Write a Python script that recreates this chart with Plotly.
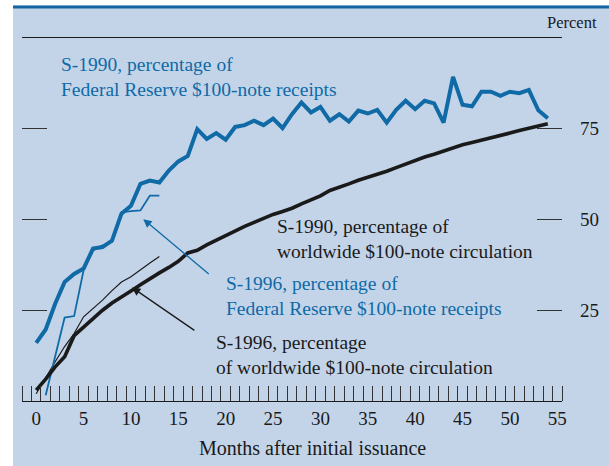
import plotly.graph_objects as go

# values (percent, by month after issuance)
months = list(range(55))
s1990_receipts = [
    16, 19.7, 26.8, 32.8, 35, 36.5, 42, 42.4, 44.2, 51.6,
    53.8, 59.8, 60.7, 60.2, 63.5, 66, 67.5, 74.9, 72.2, 73.8,
    72, 75.5, 76, 77.2, 76, 77.8, 75.2, 79, 82.2, 79.5,
    81, 77.2, 79, 77, 80, 79.2, 80.2, 76.7, 80.2, 82.7,
    80.4, 82.7, 82, 76.7, 89.3, 81.6, 81.2, 85.2, 85.2, 84.1,
    85.2, 84.8, 85.7, 80.1, 77.9,
]
s1990_circulation = [
    3, 6, 9.4, 12.2, 18, 20.4, 22.8, 25, 27, 28.8,
    30.3, 32, 33.8, 35.3, 36.8, 38.5, 40.8, 41.5, 43, 44.3,
    45.6, 46.9, 48.1, 49.2, 50.3, 51.4, 52.2, 53.1, 54.3, 55.3,
    56.5, 58, 58.8, 59.8, 60.8, 61.6, 62.5, 63.3, 64.3, 65.3,
    66.4, 67.2, 68, 68.9, 69.8, 70.6, 71.2, 71.8, 72.5, 73.1,
    73.8, 74.5, 75.1, 75.8, 76.4,
]
s1996_receipt_months = [1, 3, 4, 5, 6, 7, 8, 9, 10, 11, 12, 13]
s1996_receipts = [1.6, 23, 23.4, 36, 41.5, 42.9, 43.8, 52, 52.3, 52.5, 56.6, 56.6]
s1996_circ_months = list(range(14))
s1996_circulation = [2, 6.5, 10.8, 15, 18.6, 23.2, 25.5, 27.8, 30.4, 32.8, 34.2, 36.2, 38, 39.8]

x_labels = list(range(0, 56, 5))
x_minor = [m - 0.5 for m in range(-1, 57)]
y_ticks = [25, 50, 75]

BLUE = "#0f6aa6"
PANEL = "#c3d4e9"
DARK = "#1a1a1a"
FONT = "Liberation Serif, Times New Roman, serif"

W, H = 609, 466
L, R, T, B = 22, 47, 38, 65
pw, ph = W - L - R, H - T - B


def px_x(p):
    return (p - L) / pw


def px_y(p):
    return (H - B - p) / ph


fig = go.Figure()

fig.add_trace(go.Scatter(x=s1996_circ_months, y=s1996_circulation, mode="lines",
                         line=dict(color=DARK, width=1.2)))
fig.add_trace(go.Scatter(x=s1996_receipt_months, y=s1996_receipts, mode="lines",
                         line=dict(color=BLUE, width=1.8)))
fig.add_trace(go.Scatter(x=months, y=s1990_circulation, mode="lines",
                         line=dict(color=DARK, width=3.6)))
fig.add_trace(go.Scatter(x=months, y=s1990_receipts, mode="lines",
                         line=dict(color=BLUE, width=4)))

# white margin strips round the blue panel, and the blue rule on top
fig.add_shape(type="rect", xref="paper", yref="paper",
              x0=px_x(-2), x1=px_x(13), y0=px_y(H + 2), y1=px_y(-2),
              fillcolor="white", line_width=0)
fig.add_shape(type="rect", xref="paper", yref="paper",
              x0=px_x(-2), x1=px_x(W + 2), y0=px_y(5.5), y1=px_y(-2),
              fillcolor="white", line_width=0)
fig.add_shape(type="rect", xref="paper", yref="paper",
              x0=px_x(13), x1=px_x(W + 2), y0=px_y(8.5), y1=px_y(5.5),
              fillcolor="#1466a3", line_width=0)

labels = [
    ("S-1990, percentage of<br>Federal Reserve $100-note receipts", 2.4, 89.3, BLUE),
    ("S-1990, percentage of<br>worldwide $100-note circulation", 25.2, 44.5, DARK),
    ("S-1996, percentage of<br>Federal Reserve $100-note receipts", 19.8, 28.8, BLUE),
    ("S-1996, percentage<br>of worldwide $100-note circulation", 18.8, 12.8, DARK),
]
for text, x, y, color in labels:
    fig.add_annotation(x=x, y=y, text=text, showarrow=False, xanchor="left",
                       yanchor="middle", align="left",
                       font=dict(family=FONT, size=19.5, color=color))

# pointer arrows
fig.add_annotation(x=11.3, y=50.1, ax=67, ay=56, text="", showarrow=True,
                   arrowhead=2, arrowsize=1.3, arrowwidth=1.3, arrowcolor=BLUE)
fig.add_annotation(x=10.1, y=31.3, ax=64, ay=44, text="", showarrow=True,
                   arrowhead=2, arrowsize=1.3, arrowwidth=1.3, arrowcolor=DARK)

fig.add_annotation(x=px_x(599), y=px_y(23), xref="paper", yref="paper",
                   text="Percent", showarrow=False, xanchor="right", yanchor="middle",
                   font=dict(family=FONT, size=16.5, color=DARK))
fig.add_annotation(x=px_x(312), y=px_y(448), xref="paper", yref="paper",
                   text="Months after initial issuance", showarrow=False,
                   xanchor="center", yanchor="middle",
                   font=dict(family=FONT, size=20, color=DARK))

fig.update_xaxes(
    range=[-1.5, 55.5],
    tickmode="array",
    tickvals=x_labels,
    ticks="",
    ticklabelstandoff=0,
    showline=True,
    mirror=True,
    linecolor=DARK,
    linewidth=1.3,
    showgrid=False,
    zeroline=False,
    minor=dict(tickmode="array", tickvals=x_minor, ticks="inside",
               ticklen=15, tickcolor="#333333", tickwidth=1, showgrid=False),
    tickfont=dict(family=FONT, size=19, color=DARK),
)
fig.update_yaxes(
    range=[0, 100],
    side="right",
    tickmode="array",
    tickvals=y_ticks,
    ticks="inside",
    ticklen=25,
    tickwidth=1.3,
    tickcolor="#333333",
    mirror="ticks",
    showline=False,
    showgrid=False,
    zeroline=False,
    ticklabelposition="outside",
    ticklabelstandoff=17,
    tickfont=dict(family=FONT, size=19, color=DARK),
)

fig.update_layout(
    width=W,
    height=H,
    margin=dict(l=L, r=R, t=T, b=B, autoexpand=False),
    paper_bgcolor=PANEL,
    plot_bgcolor="rgba(0,0,0,0)",
    showlegend=False,
)

# drop the browser's default body margin so the figure sits at the page corner
fig.write_html("out.html", config={"displayModeBar": False},
               post_script="document.body.style.margin = '0';")
